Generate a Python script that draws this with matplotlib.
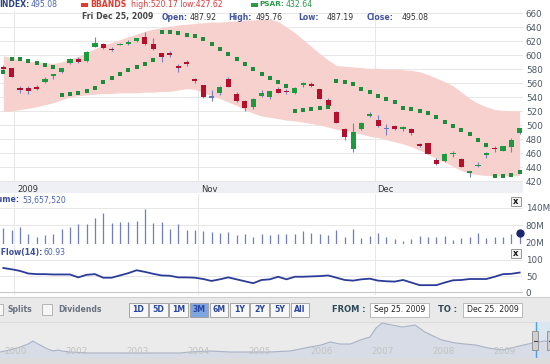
import matplotlib
matplotlib.use("Agg")
import matplotlib.pyplot as plt
from matplotlib.patches import Rectangle
import numpy as np

W, H = 550, 364

# daily candles, late Sep to Dec 25 2009
opens = [583.3, 581.0, 552.4, 552.9, 553.8, 561.0, 571.0, 575.2, 588.1, 593.8,
         591.0, 611.9, 615.7, 609.0, 614.8, 616.7, 619.5, 626.2, 615.2, 602.4,
         603.3, 584.8, 590.5, 565.2, 556.7, 540.0, 545.2, 565.2, 543.8, 534.3,
         526.2, 541.4, 540.5, 551.0, 548.6, 546.2, 557.6, 558.1, 551.4, 535.7,
         519.0, 494.8, 465.3, 493.8, 513.8, 507.1, 494.4, 499.0, 494.8, 494.3,
         472.4, 473.8, 450.0, 449.0, 458.1, 451.0, 432.4, 441.0, 456.7, 467.1,
         463.4, 469.0, 487.92]
closes = [580.5, 569.0, 550.0, 549.1, 551.9, 566.2, 571.9, 581.4, 593.8, 590.0,
          604.8, 616.7, 609.5, 607.1, 616.2, 617.6, 623.8, 615.7, 608.6, 596.7,
          600.0, 581.9, 587.1, 562.4, 539.5, 540.0, 554.8, 554.8, 534.3, 523.8,
          536.7, 546.2, 548.1, 546.2, 547.1, 553.3, 560.0, 555.7, 537.1, 527.1,
          503.4, 482.4, 489.5, 503.4, 514.8, 499.0, 494.4, 494.3, 497.6, 488.1,
          470.5, 458.6, 444.3, 458.1, 459.5, 440.5, 433.3, 442.4, 460.0, 465.2,
          470.0, 478.6, 495.08]
highs = [586.2, 582.0, 555.7, 556.2, 557.2, 569.0, 572.0, 582.0, 595.2, 596.7,
         605.5, 626.2, 616.5, 611.9, 617.0, 621.4, 624.5, 633.3, 623.8, 603.0,
         605.7, 586.7, 592.9, 566.7, 557.5, 550.0, 556.2, 569.0, 546.7, 535.7,
         538.1, 549.5, 549.0, 553.8, 551.0, 554.8, 561.9, 561.9, 552.0, 538.1,
         519.5, 495.2, 502.4, 504.8, 518.6, 514.3, 501.0, 499.5, 498.6, 495.2,
         473.8, 474.3, 452.4, 459.5, 463.4, 452.4, 434.8, 447.6, 462.0, 470.0,
         470.5, 481.0, 495.76]
lows = [578.6, 568.0, 545.2, 543.8, 550.0, 559.6, 565.2, 574.0, 586.7, 589.0,
        590.0, 611.0, 609.0, 606.2, 614.0, 614.3, 619.0, 614.3, 607.1, 590.5,
        596.7, 576.2, 584.3, 559.6, 539.0, 534.3, 542.9, 553.8, 533.3, 520.0,
        522.9, 540.5, 537.1, 545.2, 544.3, 544.3, 554.8, 554.8, 536.5, 523.8,
        503.0, 478.6, 462.0, 492.9, 512.0, 497.6, 485.7, 492.9, 491.9, 485.7,
        469.0, 458.0, 442.9, 447.6, 454.8, 439.6, 426.2, 439.6, 452.4, 462.0,
        463.0, 462.0, 487.19]
psar = [576.2, 594.3, 593.8, 591.4, 589.0, 586.2, 583.3, 542.9, 543.8, 546.2,
        549.1, 553.3, 561.0, 567.6, 573.3, 578.6, 583.3, 587.6, 592.9, 633.3,
        632.4, 631.4, 629.0, 627.1, 623.3, 616.2, 608.1, 601.0, 594.3, 587.6,
        580.0, 572.9, 566.7, 561.0, 555.7, 520.0, 521.0, 522.4, 523.8, 525.7,
        562.9, 561.0, 558.1, 551.9, 547.2, 541.9, 537.2, 532.4, 524.3, 523.4,
        520.5, 517.6, 511.9, 504.8, 498.6, 493.4, 486.7, 478.6, 471.0, 427.2,
        427.7, 429.1, 432.64]
bb_upper = [599, 596, 593, 591, 590, 589, 588, 590, 594, 598,
            604, 609, 614, 618, 622, 626, 630, 634, 637, 639,
            641, 643, 644, 645, 646, 647, 647, 648, 649, 650,
            650, 651, 651, 648, 640, 632, 622, 612, 602, 593,
            585, 584, 583, 582, 581, 581, 580, 580, 579, 578,
            576, 572, 567, 562, 556, 547, 538, 531, 526, 522,
            521, 520.5, 520.17]
bb_lower = [519, 520, 522, 524, 526, 529, 532, 536, 540, 542,
            543, 544, 545, 545, 546, 546, 546, 547, 547, 548,
            548, 550, 552, 551, 546, 542, 538, 533, 528, 522,
            517, 513, 511, 509, 507, 506, 504, 502, 500, 497,
            494, 492, 490, 487, 484, 482, 479, 476, 473, 469,
            464, 458, 452, 447, 441, 435, 431, 429, 428, 427.5,
            427.4, 427.5, 427.62]
volume_m = [69.6, 63.8, 75.3, 50.0, 40.8, 46.5, 50.0, 66.1, 75.3, 83.4,
            83.4, 106.5, 121.5, 89.2, 92.6, 92.6, 96.1, 135.3, 86.9, 92.6,
            67.3, 84.6, 63.8, 63.8, 61.5, 58.0, 54.6, 58.0, 46.5, 50.0,
            40.8, 50.0, 46.5, 48.8, 50.0, 50.0, 60.4, 52.3, 50.0, 46.5,
            63.8, 40.8, 67.3, 35.0, 43.0, 52.3, 40.8, 31.5, 26.9, 31.5,
            43.0, 38.4, 38.4, 44.2, 29.2, 35.0, 40.8, 52.3, 35.0, 40.8,
            40.8, 50.0, 53.66]
money_flow = [75, 71, 66, 58, 56, 56, 55, 55, 55, 46,
              54, 56, 45, 45, 52, 59, 68, 63, 57, 52,
              51, 46, 46, 45, 41, 35, 40, 46, 40, 34,
              28, 38, 40, 48, 40, 48, 48, 49, 50, 52,
              45, 38, 36, 40, 42, 36, 34, 33, 38, 30,
              22, 22, 22, 30, 37, 38, 41, 41, 41, 48,
              56, 57, 60.93]

price_ticks = list(range(420, 661, 20))
vol_ticks = [20, 80, 140]
mf_ticks = [0, 50, 100]
month_pos = [1.3, 23.4, 44.6]
month_labels = ["2009", "Nov", "Dec"]

# long-term navigator underneath
nav_years = [2000.74, 2000.90, 2001.07, 2001.20, 2001.28, 2001.33, 2001.43, 2001.52,
             2001.61, 2001.69, 2001.75, 2001.89, 2002.21, 2002.87, 2003.69, 2003.85,
             2004.18, 2004.51, 2005.16, 2005.49, 2005.82, 2006.00, 2006.15, 2006.31,
             2006.48, 2006.64, 2006.80, 2006.90, 2007.00, 2007.16, 2007.33, 2007.54,
             2007.70, 2007.87, 2007.98, 2008.20, 2008.36, 2008.53, 2008.74, 2008.97,
             2009.18, 2009.46, 2009.67, 2009.75]
nav_level = [60, 80, 110, 140, 170, 150, 120, 90,
             70, 80, 70, 60, 50, 50, 50, 60,
             70, 60, 60, 70, 110, 130, 160, 140,
             140, 180, 210, 300, 350, 330, 310, 330,
             260, 210, 180, 150, 140, 130, 100, 80,
             110, 150, 170, 160]
nav_ticks = [2001, 2002, 2003, 2004, 2005, 2006, 2007, 2008, 2009]
nav_labels = ["2000", "2002", "2003", "2004", "2005", "2006", "2007", "2008", "2009"]
range_buttons = ["1D", "5D", "1M", "3M", "6M", "1Y", "2Y", "5Y", "All"]

RED = "#b5102b"
GREEN = "#1e9a3e"
CROSS = "#6676c0"
WICK = "#7482c2"
BAND = "#f7d1cd"
GRID = "#e7e7e7"
TICK = "#4b5765"
LBLUE = "#3a4c9c"


def box(l, t, r, b):
    return [l / W, 1 - b / H, (r - l) / W, (b - t) / H]


fig = plt.figure(figsize=(5.5, 3.64), dpi=100)
fig.patch.set_facecolor("white")

# background strips (date bar, control bar, navigator)
bg = fig.add_axes([0, 0, 1, 1], zorder=-5)
bg.set_xlim(0, W)
bg.set_ylim(H, 0)
bg.axis("off")
bg.add_patch(Rectangle((0, 182), 523, 11, color="#eef0f5", lw=0))
bg.add_patch(Rectangle((0, 297), W, 25, color="#e9e9e9", lw=0))
bg.add_patch(Rectangle((0, 322), W, 36, color="#ebebeb", lw=0))
bg.add_patch(Rectangle((0, 358), W, 6, color="#dcdcdc", lw=0))
bg.plot([0, W], [297, 297], color="#cfcfcf", lw=0.8)
bg.plot([0, W], [322, 322], color="#d8d8d8", lw=0.6)

x = np.arange(len(closes))
xlim = (-0.4, 62.4)


def setup(ax, ticks, labels=None):
    ax.set_xlim(*xlim)
    ax.set_facecolor("none")
    for s in ax.spines.values():
        s.set_visible(False)
    ax.yaxis.tick_right()
    ax.set_yticks(ticks, labels=labels)
    ax.tick_params(axis="y", length=0, pad=2, labelsize=6.3, labelcolor=TICK)
    ax.set_xticks([])
    for m in month_pos:
        ax.axvline(m, color=GRID, lw=0.7, zorder=0)


# price panel
ax = fig.add_axes(box(0, 10, 523, 182))
setup(ax, price_ticks)
ax.set_ylim(418.6, 664.3)
for t in price_ticks:
    ax.axhline(t, color=GRID, lw=0.7, zorder=0)
ax.fill_between(x, bb_lower, bb_upper, color=BAND, lw=0, zorder=1)
ax.vlines(x, lows, highs, color=WICK, lw=0.8, zorder=3)
colors = [GREEN if c > o else RED if c < o else CROSS for o, c in zip(opens, closes)]
heights = [max(abs(c - o), 1.6) for o, c in zip(opens, closes)]
bottoms = [(o + c) / 2 - h / 2 for o, c, h in zip(opens, closes, heights)]
ax.bar(x, heights, bottom=bottoms, width=0.62, color=colors, lw=0, zorder=4)
ax.plot(x, psar, "s", ms=2.3, color="#1c8c3a", mew=0, zorder=5)
for m, lab in zip(month_pos, month_labels):
    ax.annotate(lab, (m, 0), xycoords=("data", "axes fraction"), xytext=(2, -5.5),
                textcoords="offset points", fontsize=6, color="#333333", va="center")

# volume panel
axv = fig.add_axes(box(0, 194, 523, 244))
setup(axv, vol_ticks, [f"{v}M" for v in vol_ticks])
axv.set_ylim(16, 188)
for t in vol_ticks[1:]:
    axv.axhline(t, color=GRID, lw=0.7, zorder=0)
axv.vlines(x, 16, volume_m, color="#6f7dc4", lw=0.9)
axv.plot(x[-1], volume_m[-1], "o", ms=5, color="#1b2670", clip_on=False, zorder=5)

# money flow panel
axm = fig.add_axes(box(0, 245, 523, 295))
setup(axm, mf_ticks)
axm.set_ylim(-8.4, 146)
for t in mf_ticks[1:]:
    axm.axhline(t, color=GRID, lw=0.7, zorder=0)
axm.axhline(0, color="#c8c8c8", lw=0.8, zorder=0)
axm.plot(x, money_flow, color="#2b3c98", lw=1.3)

# navigator
axn = fig.add_axes(box(0, 322, W, 358))
axn.set_facecolor("none")
axn.axis("off")
axn.set_xlim(2000.74, 2009.75)
axn.set_ylim(0, 360)
axn.fill_between(nav_years, nav_level, color="#d7dce6", lw=0)
axn.plot(nav_years, nav_level, color="#aab3c6", lw=0.8)
for t, lab in zip(nav_ticks, nav_labels):
    axn.text(t, 20, lab, ha="center", va="bottom", fontsize=6.3, color="#c2c2c2")
axn.axvspan(2009.52, 2009.75, color="#dbe6f3", zorder=0)
axn.axvline(2009.52, color="#4a9fe6", lw=1.0)

# overlay: titles, buttons, form boxes
fg = fig.add_axes([0, 0, 1, 1], zorder=10)
fg.set_xlim(0, W)
fg.set_ylim(H, 0)
fg.axis("off")
fg.patch.set_alpha(0)


def txt(px, py, s, **kw):
    kw.setdefault("fontsize", 5.6)
    fg.text(px, py, s, va="center", ha=kw.pop("ha", "left"), **kw)


txt(-1, 4.5, "INDEX:", color="#2c4486", weight="bold")
txt(31, 4.5, "495.08", color="#4a62ae")
fg.add_patch(Rectangle((81, 2.5), 7, 4, color="#e23a2e", lw=0))
txt(90, 4.5, "BBANDS", color="#e23a2e", weight="bold")
txt(131, 4.5, "high:520.17 low:427.62", color="#e03c3c")
fg.add_patch(Rectangle((251, 2.5), 7, 4, color="#2a9a4a", lw=0))
txt(259, 4.5, "PSAR:", color="#2a9a4a", weight="bold", fontsize=5.3)
txt(286, 4.5, "432.64", color="#2a9a4a")

txt(82, 17, "Fri Dec 25, 2009", color="#454545", weight="bold")
for px, lab in [(162, "Open:"), (228, "High:"), (298, "Low:"), (367, "Close:")]:
    txt(px, 17, lab, color="#4354a2", weight="bold")
for px, val in [(190, "487.92"), (256, "495.76"), (327, "487.19"), (402, "495.08")]:
    txt(px, 17, val, color="#333333")

txt(20, 200, "Volume:", color=LBLUE, weight="bold", ha="right")
txt(22, 200, "53,657,520", color="#4a62ae")
txt(42, 252.5, "Money Flow(14):", color=LBLUE, weight="bold", ha="right")
txt(44, 252.5, "60.93", color="#4a62ae")
for py in (197, 249):
    fg.add_patch(Rectangle((511, py), 10, 9, facecolor="#f4f4f4", edgecolor="#888888", lw=0.6))
    txt(516, py + 4.3, "x", color="#111111", weight="bold", ha="center", fontsize=6)

# control bar
fg.add_patch(Rectangle((-5, 304), 8, 11, facecolor="#f6f6f6", edgecolor="#aaaaaa", lw=0.6))
txt(7, 309.5, "Splits", color="#6a7280", weight="bold")
fg.add_patch(Rectangle((42, 304), 10, 11, facecolor="#f6f6f6", edgecolor="#aaaaaa", lw=0.6))
txt(58, 309.5, "Dividends", color="#6a7280", weight="bold")
for k, lab in enumerate(range_buttons):
    bx = 129 + 20.2 * k
    on = lab == "3M"
    fg.add_patch(Rectangle((bx, 303), 18.5, 14, facecolor="#7ea6e2" if on else "#f7f7f7",
                           edgecolor="#9a9a9a", lw=0.6))
    txt(bx + 9.25, 310, lab, color="#2a46a0", weight="bold", ha="center")
txt(332, 310, "FROM :", color="#2c4a58", weight="bold", fontsize=6)
fg.add_patch(Rectangle((370, 303), 59, 14, facecolor="white", edgecolor="#b0b0b0", lw=0.6))
txt(374, 310, "Sep 25. 2009", color="#222222")
txt(438, 310, "TO :", color="#2c4a58", weight="bold", fontsize=6)
fg.add_patch(Rectangle((463, 303), 59, 14, facecolor="white", edgecolor="#b0b0b0", lw=0.6))
txt(467, 310, "Dec 25. 2009", color="#222222")

# navigator handles
for hx in (532, 547):
    fg.add_patch(Rectangle((hx, 331), 6, 19, facecolor="#cfcfcf", edgecolor="#8a8a8a", lw=0.6))
    fg.plot([hx + 1.5, hx + 4.5], [340.5, 340.5], color="#444444", lw=0.8)

fig.savefig("out.png", dpi=100)
